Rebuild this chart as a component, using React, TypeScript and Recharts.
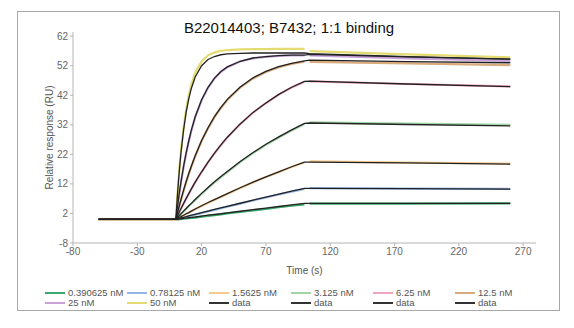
import { LineChart, Line, XAxis, YAxis, Label } from 'recharts';

// sample times (s); 102 is a gap where the measured curves break
const times = [-60, 0, 1, 2, 3, 4, 6, 8, 10, 12, 15, 20, 25, 30, 35, 40, 50, 60, 70, 80, 90, 100, 102, 104, 180, 260];

const concentrations = ['0.390625 nM', '0.78125 nM', '1.5625 nM', '3.125 nM', '6.25 nM', '12.5 nM', '25 nM', '50 nM'];
const curveColors = ['#3aa86b', '#93b6e6', '#f6c98c', '#9fd6a3', '#f2a3c3', '#d9ab7c', '#c8a2d8', '#e4dc72'];

const meas0_390625 = [0, 0, 0, 0, 0.1, 0.1, 0.2, 0.3, 0.4, 0.5, 0.6, 0.9, 1.2, 1.4, 1.7, 2.0, 2.5, 3.0, 3.5, 4.1, 4.6, 5.1, null, 5.3, 5.3, 5.4];
const meas0_78125 = [0, 0, 0.1, 0.2, 0.3, 0.4, 0.6, 0.8, 1.0, 1.3, 1.6, 2.1, 2.7, 3.2, 3.8, 4.3, 5.3, 6.4, 7.4, 8.4, 9.4, 10.3, null, 10.6, 10.4, 10.3];
const meas1_5625 = [0, 0, 0.2, 0.4, 0.6, 0.9, 1.3, 1.8, 2.2, 2.7, 3.4, 4.5, 5.5, 6.6, 7.6, 8.6, 10.6, 12.5, 14.3, 16.0, 17.7, 19.3, null, 19.6, 19.2, 18.9];
const meas3_125 = [0, 0, 0.4, 0.9, 1.3, 1.8, 2.7, 3.6, 4.5, 5.3, 6.6, 8.6, 10.6, 12.5, 14.3, 16.0, 19.4, 22.4, 25.2, 27.7, 30.1, 32.3, null, 32.8, 32.4, 32.0];
const meas6_25 = [0, 0, 0.9, 1.8, 2.7, 3.6, 5.3, 7.0, 8.6, 10.2, 12.5, 16.0, 19.3, 22.3, 25.1, 27.7, 32.2, 36.1, 39.3, 42.2, 44.6, 46.6, null, 46.7, 45.8, 45.0];
const meas12_5 = [0, 0, 1.7, 3.4, 5.0, 6.6, 9.7, 12.6, 15.3, 17.8, 21.3, 26.5, 30.8, 34.6, 37.7, 40.4, 44.6, 47.7, 49.9, 51.5, 52.6, 53.4, null, 53.3, 52.8, 52.2];
const meas25 = [0, 0, 3.4, 6.6, 9.7, 12.6, 17.7, 22.3, 26.3, 29.9, 34.5, 40.3, 44.5, 47.7, 49.9, 51.5, 53.4, 54.5, 55.0, 55.3, 55.5, 55.5, null, 55.5, 54.5, 53.6];
const meas50 = [0, 0, 7.0, 13.2, 18.6, 23.4, 31.2, 37.3, 42.0, 45.6, 49.6, 53.4, 55.5, 56.5, 57.0, 57.3, 57.5, 57.6, 57.6, 57.7, 57.7, 57.7, null, 56.9, 55.8, 54.8];

const fit0_390625 = [0, 0, 0.05, 0.1, 0.15, 0.2, 0.3, 0.45, 0.55, 0.65, 0.8, 1.1, 1.4, 1.65, 1.9, 2.2, 2.75, 3.3, 3.8, 4.35, 4.9, 5.4, null, 5.4, 5.4, 5.4];
const fit0_78125 = [0, 0, 0.1, 0.2, 0.35, 0.5, 0.7, 0.9, 1.15, 1.4, 1.7, 2.25, 2.8, 3.35, 3.9, 4.4, 5.45, 6.5, 7.55, 8.55, 9.55, 10.5, null, 10.5, 10.4, 10.2];
const fit1_5625 = [0, 0, 0.24, 0.5, 0.7, 0.95, 1.4, 1.9, 2.3, 2.8, 3.5, 4.6, 5.7, 6.7, 7.7, 8.7, 10.7, 12.6, 14.4, 16.1, 17.8, 19.4, null, 19.4, 19.1, 18.7];
const fit3_125 = [0, 0, 0.5, 0.95, 1.4, 1.9, 2.8, 3.7, 4.6, 5.4, 6.7, 8.8, 10.8, 12.7, 14.5, 16.2, 19.6, 22.6, 25.4, 27.9, 30.3, 32.5, null, 32.6, 32.1, 31.6];
const fit6_25 = [0, 0, 0.9, 1.9, 2.8, 3.7, 5.4, 7.1, 8.7, 10.3, 12.6, 16.1, 19.4, 22.4, 25.2, 27.8, 32.3, 36.2, 39.4, 42.3, 44.7, 46.7, null, 46.8, 45.8, 44.9];
const fit12_5 = [0, 0, 1.8, 3.5, 5.2, 6.8, 9.9, 12.8, 15.5, 18.0, 21.5, 26.7, 31.0, 34.8, 37.9, 40.6, 44.8, 47.9, 50.1, 51.7, 52.8, 53.6, null, 53.9, 53.4, 53.0];
const fit25 = [0, 0, 3.5, 6.8, 9.9, 12.8, 18.0, 22.6, 26.6, 30.2, 34.7, 40.5, 44.7, 47.8, 50.0, 51.6, 53.5, 54.6, 55.1, 55.4, 55.6, 55.6, null, 55.8, 55.0, 54.2];
const fit50 = [0, 0, 6.8, 12.8, 18.1, 22.7, 30.3, 36.3, 40.8, 44.3, 48.2, 52.0, 54.1, 55.1, 55.7, 56.0, 56.2, 56.3, 56.3, 56.3, 56.3, 56.3, null, 56.1, 55.1, 54.2];

const measured = [meas0_390625, meas0_78125, meas1_5625, meas3_125, meas6_25, meas12_5, meas25, meas50];
const fits = [fit0_390625, fit0_78125, fit1_5625, fit3_125, fit6_25, fit12_5, fit25, fit50];

const xTicks = [-80, -30, 20, 70, 120, 170, 220, 270];
const yTicks = [-8, 2, 12, 22, 32, 42, 52, 62];

const legendLabels = [...concentrations, 'data', 'data', 'data', 'data'];
const legendColors = [...curveColors, '#333', '#333', '#333', '#333'];

const rows = times.map((t, i) => {
  const row: Record<string, number | null> = { t };
  measured.forEach((s, k) => (row[`m${k}`] = s[i]));
  fits.forEach((s, k) => (row[`f${k}`] = s[i]));
  return row;
});

const font = '"Liberation Sans", Arial, sans-serif';
const tickStyle = { fontSize: 10, fill: '#666', fontFamily: font };

export default function App() {
  return (
    <div style={{ position: 'relative', width: 558, height: 312, fontFamily: font }}>
      <div style={{ position: 'absolute', left: 9, top: 3, width: 541, height: 298, border: '1px solid #a8a8a8' }} />
      <div style={{ position: 'absolute', left: 0, width: 562, top: 11, textAlign: 'center', fontSize: 15, color: '#111' }}>
        B22014403; B7432; 1:1 binding
      </div>
      <div style={{ position: 'absolute', left: 0, top: 0 }}>
        <LineChart width={558} height={275} data={rows} margin={{ top: 24, right: 30, bottom: 0, left: 25 }}>
          <XAxis
            dataKey="t"
            type="number"
            domain={[-80, 280]}
            ticks={xTicks}
            tick={tickStyle}
            tickSize={3}
            stroke="#b5b5b5"
            height={40}
            allowDataOverflow
          >
            <Label value="Time (s)" position="insideBottom" offset={9} style={{ fontSize: 10, fill: '#555', fontFamily: font }} />
          </XAxis>
          <YAxis
            type="number"
            domain={[-8, 63.4]}
            ticks={yTicks}
            tick={tickStyle}
            tickSize={3}
            stroke="#b5b5b5"
            width={40}
            allowDataOverflow
          >
            <Label
              value="Relative response (RU)"
              angle={-90}
              position="insideLeft"
              offset={16}
              style={{ fontSize: 10, fill: '#555', fontFamily: font, textAnchor: 'middle' }}
            />
          </YAxis>
          {measured.map((_, k) => (
            <Line
              key={`m${k}`}
              dataKey={`m${k}`}
              name={concentrations[k]}
              type="linear"
              stroke={curveColors[k]}
              strokeWidth={2.2}
              dot={false}
              isAnimationActive={false}
            />
          ))}
          {fits.map((_, k) => (
            <Line
              key={`f${k}`}
              dataKey={`f${k}`}
              name="data"
              type="linear"
              stroke="#222"
              strokeWidth={1.3}
              dot={false}
              connectNulls
              isAnimationActive={false}
            />
          ))}
        </LineChart>
      </div>
      <div style={{ position: 'absolute', left: 37, top: 280, width: 500, display: 'grid', gridTemplateColumns: 'repeat(6, 82px)', rowGap: 0, fontSize: 9.5, color: '#555', lineHeight: '10px' }}>
        {legendLabels.map((label, i) => (
          <div key={i} style={{ display: 'flex', alignItems: 'center', whiteSpace: 'nowrap' }}>
            <span style={{ display: 'inline-block', flex: 'none', width: 20, height: 1.5, background: legendColors[i], marginRight: 3 }} />
            {label}
          </div>
        ))}
      </div>
    </div>
  );
}
